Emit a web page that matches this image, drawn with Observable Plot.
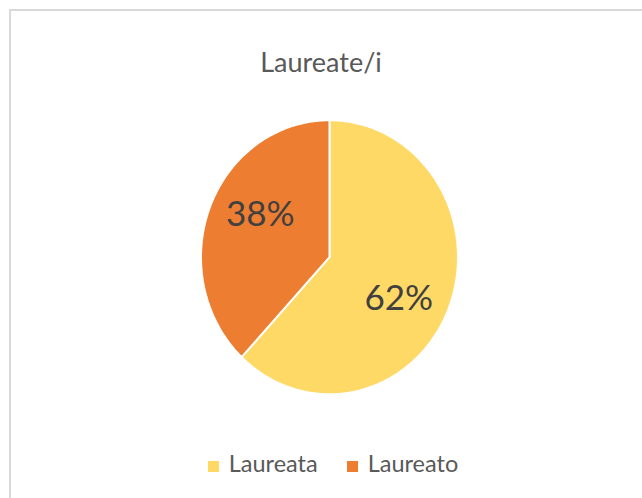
<!DOCTYPE html>
<html>
<head>
<meta charset="utf-8">
<script src="https://cdn.jsdelivr.net/npm/d3@7"></script>
<script src="https://cdn.jsdelivr.net/npm/@observablehq/plot@0.6"></script>
<style>
  html, body { margin: 0; padding: 0; background: #fff; }
  #frame { position: relative; width: 642px; height: 498px; overflow: hidden; font-family: Lato, "Open Sans", sans-serif; }
  #border { position: absolute; left: 9px; top: 9px; right: -10px; bottom: -10px; border-left: 2px solid #d9d9d9; border-top: 2px solid #d9d9d9; }
  #title { position: absolute; left: 0; width: 642px; top: 48px; text-align: center; font-size: 27px; line-height: 27px; color: #595959; }
  #chart { position: absolute; left: 0; top: 0; }
  #legend { position: absolute; left: 24px; width: 618px; top: 452px; display: flex; justify-content: center; gap: 29px; font-size: 23.5px; line-height: 23.5px; color: #595959; }
  .item { display: flex; align-items: baseline; gap: 10px; }
  .sw { display: inline-block; width: 11px; height: 11px; }
</style>
</head>
<body>
<div id="frame">
  <div id="border"></div>
  <div id="chart"></div>
  <div id="title">Laureate/i</div>
  <div id="legend"></div>
</div>
<script>
const categories = ["Laureata", "Laureato"];
const values = [62, 38];
const labels = ["62%", "38%"];
const colors = ["#FFD966", "#ED7D31"];

const total = d3.sum(values);
let acc = 0;
const slices = categories.map((c, i) => {
  const a0 = acc / total * 2 * Math.PI;
  acc += values[i];
  const a1 = acc / total * 2 * Math.PI;
  return {cat: c, value: values[i], label: labels[i], color: colors[i], a0, a1};
});

// polygon outline for each slice (center + sampled arc)
const outline = [];
for (const s of slices) {
  outline.push({cat: s.cat, x: 0, y: 0});
  const steps = Math.max(2, Math.ceil((s.a1 - s.a0) / (Math.PI / 180)));
  for (let k = 0; k <= steps; ++k) {
    const a = s.a0 + (s.a1 - s.a0) * k / steps;
    outline.push({cat: s.cat, x: Math.sin(a), y: Math.cos(a)});
  }
  outline.push({cat: s.cat, x: 0, y: 0});
}
// label placement: near slice mid-angle ("best fit"-like), slightly rotated
const labelRadius = 0.62, labelTurn = 8 * Math.PI / 180;
const labelPts = slices.map(s => {
  const m = (s.a0 + s.a1) / 2 + labelTurn;
  return {label: s.label, x: labelRadius * Math.sin(m), y: labelRadius * Math.cos(m)};
});

const W = 642, H = 498;
const plot = Plot.plot({
  width: W,
  height: H,
  marginLeft: 200.5,
  marginRight: 184.5,
  marginTop: 119.7,
  marginBottom: 104.3,
  x: {domain: [-1, 1], axis: null},
  y: {domain: [-1, 1], axis: null},
  style: {background: "transparent", overflow: "visible"},
  marks: [
    ...slices.map(s => Plot.line(outline.filter(d => d.cat === s.cat), {
      x: "x", y: "y", fill: s.color, stroke: "white", strokeWidth: 2, strokeLinejoin: "miter", curve: "linear"
    })),
    Plot.text(labelPts, {x: "x", y: "y", text: "label", fontSize: 35, fill: "#404040", fontFamily: "Lato, 'Open Sans', sans-serif"})
  ]
});
document.getElementById("chart").appendChild(plot);

const legend = document.getElementById("legend");
categories.forEach((c, i) => {
  const item = document.createElement("div");
  item.className = "item";
  const sw = document.createElement("span");
  sw.className = "sw";
  sw.style.background = colors[i];
  const t = document.createElement("span");
  t.textContent = c;
  item.appendChild(sw);
  item.appendChild(t);
  legend.appendChild(item);
});
</script>
</body>
</html>
